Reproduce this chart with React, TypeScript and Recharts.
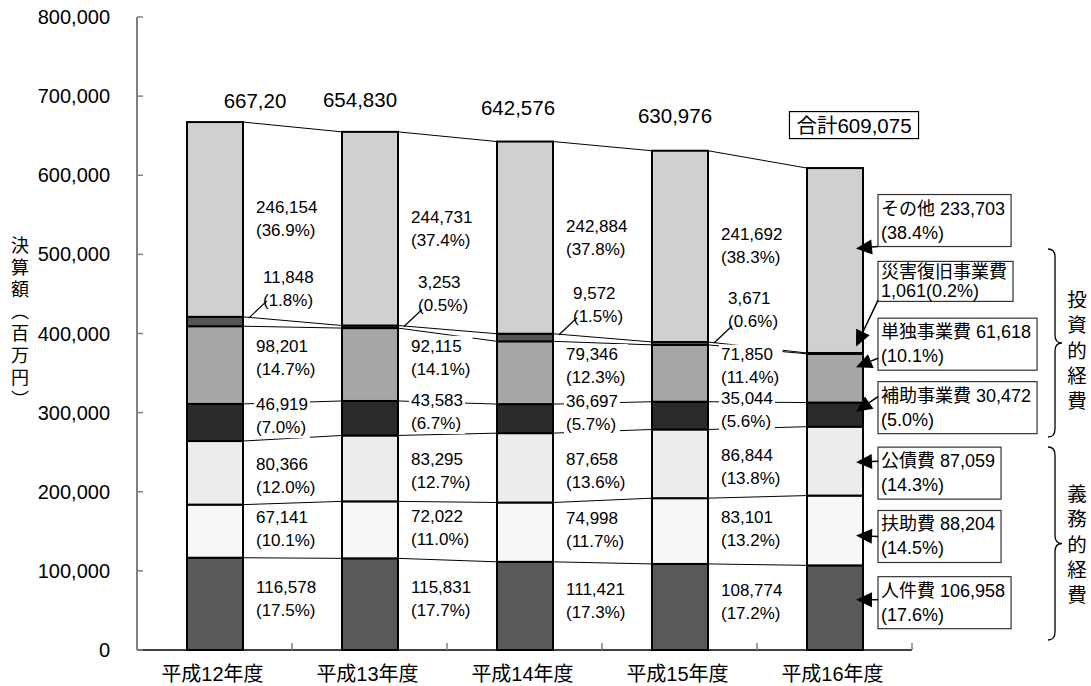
import React from "react";
import { BarChart, Bar, XAxis, YAxis } from "recharts";

// 決算額（百万円）
const years = ["平成12年度", "平成13年度", "平成14年度", "平成15年度", "平成16年度"];
const jinkenhi = [116578, 115831, 111421, 108774, 106958];
const fujohi = [67141, 72022, 74998, 83101, 88204];
const kosaihi = [80366, 83295, 87658, 86844, 87059];
const hojoJigyohi = [46919, 43583, 36697, 35044, 30472];
const tandokuJigyohi = [98201, 92115, 79346, 71850, 61618];
const saigaiFukkyuhi = [11848, 3253, 9572, 3671, 1061];
const sonota = [246154, 244731, 242884, 241692, 233703];

const jinkenPct = ["17.5", "17.7", "17.3", "17.2", "17.6"];
const fujoPct = ["10.1", "11.0", "11.7", "13.2", "14.5"];
const kosaiPct = ["12.0", "12.7", "13.6", "13.8", "14.3"];
const hojoPct = ["7.0", "6.7", "5.7", "5.6", "5.0"];
const tandokuPct = ["14.7", "14.1", "12.3", "11.4", "10.1"];
const saigaiPct = ["1.8", "0.5", "1.5", "0.6", "0.2"];
const sonotaPct = ["36.9", "37.4", "37.8", "38.3", "38.4"];

const totalLabels = ["667,20", "654,830", "642,576", "630,976", "合計609,075"];
const yTicks = [0, 100000, 200000, 300000, 400000, 500000, 600000, 700000, 800000];

const FONT = '"Liberation Sans", Arial, "Noto Sans CJK JP", sans-serif';
const CJK_FONT = '"Noto Sans CJK JP", sans-serif';

const CHART_W = 1091;
const CHART_H = 686;
const MARGIN = { top: 17, right: 179, bottom: 0, left: 0 };
const Y_AXIS_W = 137;
const X_AXIS_H = 36;
const STEP = (CHART_W - MARGIN.left - MARGIN.right - Y_AXIS_W) / years.length;

const SERIES = [
  { key: "jinken", name: "人件費", values: jinkenhi, pct: jinkenPct, fill: "#595959", labelDy: -5, callout: { boxDy: -5, tipDy: -8, startY: 23 } },
  { key: "fujo", name: "扶助費", values: fujohi, pct: fujoPct, fill: "#f7f7f7", labelDy: -2, callout: { boxDy: 6, tipDy: 5, startY: 26 } },
  { key: "kosai", name: "公債費", values: kosaihi, pct: kosaiPct, fill: "#ececec", labelDy: 3, callout: { boxDy: 12, tipDy: 1, startY: 14 } },
  { key: "hojo", name: "補助事業費", values: hojoJigyohi, pct: hojoPct, fill: "#2a2a2a", labelDy: -6, callout: { boxDy: -7, tipDy: -3, startY: 15 } },
  { key: "tandoku", name: "単独事業費", values: tandokuJigyohi, pct: tandokuPct, fill: "#a6a6a6", labelDy: -7, callout: { boxDy: -34, tipDy: -11, startY: 40 } },
  { key: "saigai", name: "災害復旧事業費", values: saigaiFukkyuhi, pct: saigaiPct, fill: "#555555", labelDy: -33, callout: { boxDy: -72, tipDy: -7, startY: 39 } },
  { key: "sonota", name: "その他", values: sonota, pct: sonotaPct, fill: "#d0d0d0", labelDy: 0, callout: { boxDy: -40, tipDy: -12, startY: 52 } },
];

// nudges for the total labels above each bar
const TOTAL_NUDGE = [
  { dx: 40, dy: -22 },
  { dx: -10, dy: -32 },
  { dx: -7, dy: -34 },
  { dx: -5, dy: -35 },
  { dx: 19, dy: -43 },
];

const rows = years.map((year, i) => {
  const row: any = { year };
  let acc = 0;
  const cum: number[] = [];
  SERIES.forEach((s) => {
    row[s.key] = s.values[i];
    acc += s.values[i];
    cum.push(acc);
  });
  row.cum = cum;
  return row;
});

const fmt = (v: number) => v.toLocaleString("en-US");

function textWidth(s: string, fs: number) {
  let w = 0;
  for (const ch of s) {
    if (/[0-9]/.test(ch)) w += 0.556;
    else if (ch === "," || ch === "." || ch === " ") w += 0.278;
    else if (ch === "(" || ch === ")") w += 0.333;
    else if (ch === "%") w += 0.889;
    else w += 1;
  }
  return w * fs;
}

function TwoLineLabel({ x, yc, lines, fs = 17, gap = 23 }: any) {
  const w = Math.max(...lines.map((l: string) => textWidth(l, fs)));
  const top = yc - gap / 2 - fs * 0.6;
  const bottom = yc + gap / 2 + fs * 0.6;
  return (
    <g>
      <rect x={x - 2} y={top} width={w + 4} height={bottom - top} fill="#fff" />
      {lines.map((l: string, j: number) => (
        <text key={j} x={x} y={yc + (j === 0 ? -gap / 2 : gap / 2)} fontSize={fs} fontFamily={FONT} fill="#000" dominantBaseline="central">
          {l}
        </text>
      ))}
    </g>
  );
}

function Arrow({ x1, y1, x2, y2 }: any) {
  const len = Math.hypot(x2 - x1, y2 - y1) || 1;
  const ux = (x2 - x1) / len;
  const uy = (y2 - y1) / len;
  const L = 16;
  const hw = 7.5;
  const bx = x2 - ux * L;
  const by = y2 - uy * L;
  const pts = `${x2},${y2} ${bx - uy * hw},${by + ux * hw} ${bx + uy * hw},${by - ux * hw}`;
  return (
    <g>
      <line x1={x1} y1={y1} x2={bx} y2={by} stroke="#000" strokeWidth={1.5} />
      <polygon points={pts} fill="#000" />
    </g>
  );
}

function Callout({ barRight, mid, s, line1, line2 }: any) {
  const fs = 18;
  const compact = s.key === "saigai";
  const h = compact ? 40 : 52;
  const w = Math.max(textWidth(line1, fs), textWidth(line2, fs)) + 9;
  const bx = barRight + 15;
  const top = mid + s.callout.boxDy - h / 2;
  const l1 = compact ? top + 11 : top + 14;
  const l2 = compact ? top + 30 : top + 38;
  return (
    <g>
      <rect x={bx} y={top} width={w} height={h} fill="#fff" stroke="#333" strokeWidth={1.2} />
      <text x={bx + 3} y={l1} fontSize={fs} fontFamily={FONT} dominantBaseline="central">{line1}</text>
      <text x={bx + 3} y={l2} fontSize={fs} fontFamily={FONT} dominantBaseline="central">{line2}</text>
      <Arrow x1={bx} y1={top + s.callout.startY} x2={barRight - 7} y2={mid + s.callout.tipDy} />
    </g>
  );
}

function PlainSegment(props: any) {
  const { x, y, width, height, fill } = props;
  return <rect x={x} y={y} width={width} height={Math.max(height, 0)} fill={fill} stroke="#000" strokeWidth={2} />;
}

// top segment: draws its rect, then the series lines and all labels of that year
function TopSegment(props: any) {
  const { x, y, width, height, fill, index, payload } = props;
  const last = SERIES.length - 1;
  const ppu = height / payload[SERIES[last].key];
  const zeroY = y + height + payload.cum[last - 1] * ppu;
  const yOf = (v: number) => zeroY - v * ppu;
  const barRight = x + width;
  const next = rows[index + 1];
  const nudge = TOTAL_NUDGE[index];
  const isLast = index === rows.length - 1;

  return (
    <g>
      <rect x={x} y={y} width={width} height={height} fill={fill} stroke="#000" strokeWidth={2} />
      {next &&
        payload.cum.map((c: number, k: number) => (
          <line key={`c${k}`} x1={barRight} y1={yOf(c)} x2={x + STEP} y2={yOf(next.cum[k])} stroke="#000" strokeWidth={1} />
        ))}
      {!isLast &&
        SERIES.map((s, k) => {
          const lo = k === 0 ? 0 : payload.cum[k - 1];
          const hi = payload.cum[k];
          const top = yOf(hi);
          const mid = (yOf(lo) + top) / 2;
          const lines = [fmt(s.values[index]), `(${s.pct[index]}%)`];
          if (s.key === "saigai") {
            return (
              <g key={s.key}>
                <TwoLineLabel x={barRight + 20} yc={mid + s.labelDy} lines={lines} />
                <line x1={barRight + 6} y1={top + 1} x2={barRight + 24} y2={top - 16} stroke="#000" strokeWidth={1.2} />
              </g>
            );
          }
          return <TwoLineLabel key={s.key} x={barRight + 13} yc={mid + s.labelDy} lines={lines} />;
        })}
      {isLast &&
        SERIES.map((s, k) => {
          const lo = k === 0 ? 0 : payload.cum[k - 1];
          const mid = (yOf(lo) + yOf(payload.cum[k])) / 2;
          const line1 = s.key === "saigai" ? s.name : `${s.name} ${fmt(s.values[index])}`;
          const line2 = s.key === "saigai" ? `${fmt(s.values[index])}(${s.pct[index]}%)` : `(${s.pct[index]}%)`;
          return <Callout key={s.key} barRight={barRight} mid={mid} s={s} line1={line1} line2={line2} />;
        })}
      {isLast ? (
        <g>
          <rect
            x={x + width / 2 + nudge.dx - textWidth(totalLabels[index], 20.5) / 2 - 7}
            y={y + nudge.dy - 13.5}
            width={textWidth(totalLabels[index], 20.5) + 14}
            height={27}
            fill="#fff"
            stroke="#000"
            strokeWidth={1.2}
          />
          <text x={x + width / 2 + nudge.dx} y={y + nudge.dy} fontSize={20.5} fontFamily={FONT} textAnchor="middle" dominantBaseline="central">
            {totalLabels[index]}
          </text>
        </g>
      ) : (
        <text x={x + width / 2 + nudge.dx} y={y + nudge.dy} fontSize={20.5} fontFamily={FONT} textAnchor="middle" dominantBaseline="central">
          {totalLabels[index]}
        </text>
      )}
    </g>
  );
}

function XTick({ x, y, payload }: any) {
  return (
    <g>
      <line x1={x + STEP / 2} x2={x + STEP / 2} y1={y - 7} y2={y} stroke="#808080" strokeWidth={1.5} />
      <text x={x - 2} y={y + 24} fontSize={20} fontFamily={FONT} textAnchor="middle" dominantBaseline="central" fill="#000">
        {payload.value}
      </text>
    </g>
  );
}

function YTick({ x, y, payload }: any) {
  return (
    <g>
      <line x1={x} x2={x + 6} y1={y} y2={y} stroke="#808080" strokeWidth={1.5} />
      <text x={x - 27} y={y} fontSize={20} fontFamily={FONT} textAnchor="end" dominantBaseline="central" fill="#000">
        {fmt(payload.value)}
      </text>
    </g>
  );
}

function VerticalText({ x, top, text, fs, spacing }: any) {
  return (
    <text
      x={x}
      y={top}
      fontSize={fs}
      fontFamily={CJK_FONT}
      fill="#000"
      style={{ writingMode: "vertical-rl", letterSpacing: spacing - fs }}
    >
      {text}
    </text>
  );
}

function Brace({ x, top, bottom }: any) {
  const mid = (top + bottom) / 2;
  const x1 = x + 7;
  const x2 = x + 14;
  const r = 8;
  const d = `M ${x} ${top} Q ${x1} ${top} ${x1} ${top + r} L ${x1} ${mid - r} Q ${x1} ${mid} ${x2} ${mid} Q ${x1} ${mid} ${x1} ${mid + r} L ${x1} ${bottom - r} Q ${x1} ${bottom} ${x} ${bottom}`;
  return <path d={d} fill="none" stroke="#000" strokeWidth={1.3} />;
}

function Annotations() {
  const groups = [
    { text: "投資的経費", top: 290, braceTop: 249, braceBottom: 437 },
    { text: "義務的経費", top: 484, braceTop: 447, braceBottom: 640 },
  ];
  return (
    <svg width={CHART_W} height={CHART_H} style={{ position: "absolute", left: 0, top: 0, pointerEvents: "none" }}>
      <VerticalText x={20} top={236} text="決算額（百万円）" fs={18} spacing={22} />
      {groups.map((g, gi) => (
        <g key={gi}>
          <Brace x={1048} top={g.braceTop} bottom={g.braceBottom} />
          <VerticalText x={1077} top={g.top} text={g.text} fs={19.5} spacing={25.3} />
        </g>
      ))}
    </svg>
  );
}

export default function App() {
  return (
    <div style={{ position: "absolute", left: 0, top: 0, width: CHART_W, height: CHART_H, background: "#fff" }}>
      <BarChart width={CHART_W} height={CHART_H} data={rows} margin={MARGIN} barSize={56}>
        <XAxis
          dataKey="year"
          height={X_AXIS_H}
          tickSize={0}
          tickMargin={0}
          tickLine={false}
          axisLine={{ stroke: "#000", strokeWidth: 1.5 }}
          tick={<XTick />}
          interval={0}
        />
        <YAxis
          width={Y_AXIS_W}
          domain={[0, 800000]}
          ticks={yTicks}
          tickSize={0}
          tickMargin={0}
          tickLine={false}
          axisLine={{ stroke: "#808080", strokeWidth: 2 }}
          tick={<YTick />}
          interval={0}
        />
        {SERIES.map((s, k) => (
          <Bar
            key={s.key}
            dataKey={s.key}
            name={s.name}
            stackId="total"
            fill={s.fill}
            isAnimationActive={false}
            shape={k === SERIES.length - 1 ? <TopSegment /> : <PlainSegment />}
          />
        ))}
      </BarChart>
      <Annotations />
    </div>
  );
}
